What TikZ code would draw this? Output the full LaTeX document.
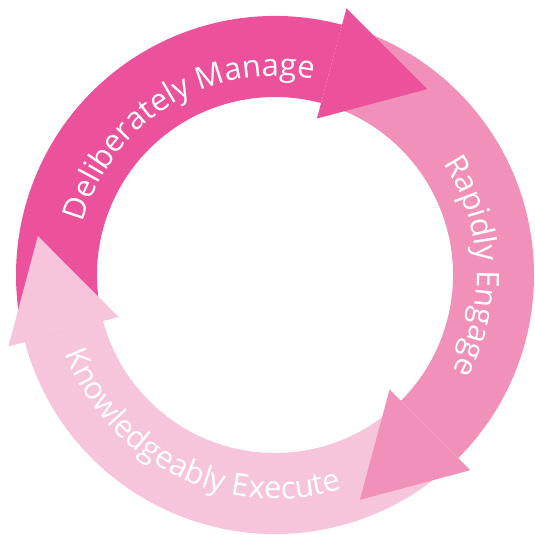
\documentclass[tikz,border=0pt]{standalone}
\usepackage{fontspec}
\newfontfamily\lblfont{Open Sans}
\usetikzlibrary{calc,decorations.text}
\definecolor{pinkA}{RGB}{236,81,155}
\definecolor{pinkB}{RGB}{241,145,186}
\definecolor{pinkC}{RGB}{247,197,219}
\newcommand\lblfmt{\lblfont\fontsize{31}{36}\selectfont}
\begin{document}
\begin{tikzpicture}[x=1pt,y=1pt,
  ringlabel/.style={decorate, decoration={text along path, text align=center, text color=white}}
]
\useasboundingbox (-275,-260) rectangle (260,275);
% arrow bodies
\fill[pinkA] (195:178) arc[start angle=195,end angle=75,radius=178] -- (75:259) arc[start angle=75,end angle=195,radius=259] -- cycle;
\fill[pinkB] (75:178) arc[start angle=75,end angle=-45,radius=178] -- (-45:259) arc[start angle=-45,end angle=75,radius=259] -- cycle;
\fill[pinkC] (-45:178) arc[start angle=-45,end angle=-165,radius=178] -- (-165:259) arc[start angle=-165,end angle=-45,radius=259] -- cycle;
% arrow heads
\fill[pinkA] (75:276) -- ($(75:219)+(-15:99)$) -- (75:162) -- cycle;
\fill[pinkB] (-45:276) -- ($(-45:219)+(-135:99)$) -- (-45:162) -- cycle;
\fill[pinkC] (195:276) -- ($(195:219)+(105:99)$) -- (195:162) -- cycle;
% labels
\path[ringlabel, decoration={text={|\lblfmt|Deliberately Manage}}] (181.75:199) arc[start angle=181.75,end angle=61.75,radius=199];
\path[ringlabel, decoration={text={|\lblfmt|Rapidly Engage}}] (62.6:202) arc[start angle=62.6,end angle=-57.4,radius=202];
\path[ringlabel, decoration={text={|\lblfmt|Knowledgeably Execute}}] (184:224) arc[start angle=184,end angle=304,radius=224];
\end{tikzpicture}
\end{document}
